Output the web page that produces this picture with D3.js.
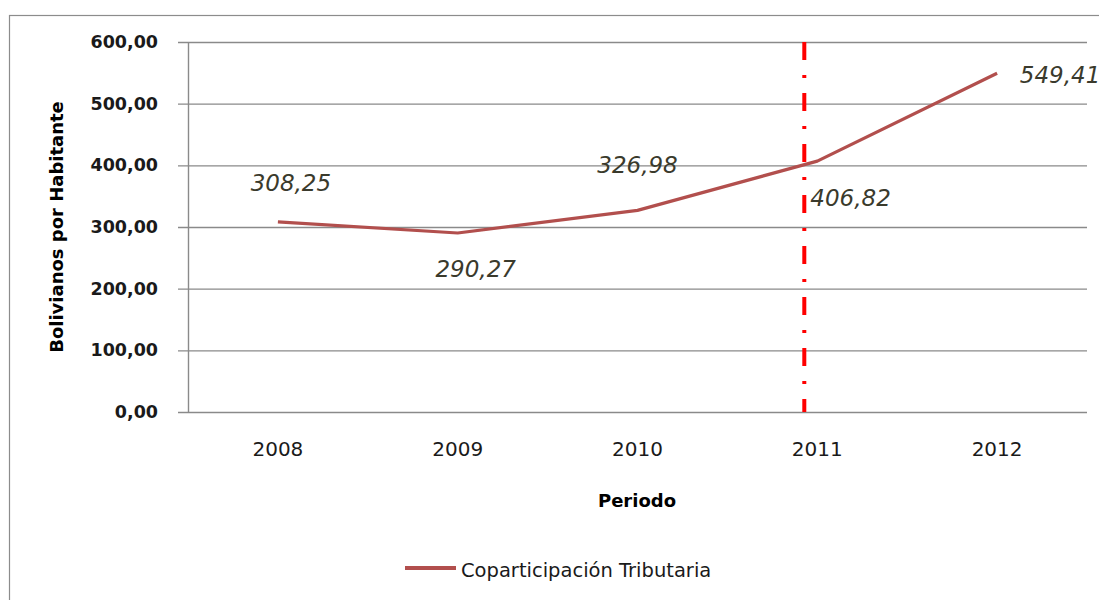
<!DOCTYPE html>
<html>
<head>
<meta charset="utf-8">
<script src="https://cdn.jsdelivr.net/npm/d3@7"></script>
<style>
  body { margin: 0; background: #fff; }
  text { font-family: "DejaVu Sans", sans-serif; }
</style>
</head>
<body>
<script>
// data
var years  = ["2008", "2009", "2010", "2011", "2012"]
var values = [308.25, 290.27, 326.98, 406.82, 549.41]
var yTicks = [0, 100, 200, 300, 400, 500, 600]
var seriesName = "Coparticipación Tributaria"
var markYear = "2011"

// where each value label sits relative to its point
var labelOffsets = [[13, -31], [18, 44], [0, -37], [-7, 45], [63, 10]]
var labelAnchor  = ["middle", "middle", "middle", "start", "middle"]

var width = 1099
var height = 600
var lineColor = "#b24f4d"

var svg = d3.select("body")
    .append("svg")
    .attr("width", width)
    .attr("height", height)

// outer chart frame
svg.append("rect")
    .attr("x", 9.5).attr("y", 15.5)
    .attr("width", width + 20).attr("height", height)
    .style("fill", "none")
    .style("stroke", "#8c8c8c")
    .style("stroke-width", 1.2)

var x = d3.scaleBand()
    .domain(years)
    .range([188, 1087])

var y = d3.scaleLinear()
    .domain([0, 600])
    .range([412, 42])

var fmt = function(v) { return d3.format(".2f")(v).replace(".", ",") }

// y axis with gridlines
var yAxis = d3.axisLeft(y)
    .tickValues(yTicks)
    .tickSize(-(1087 - 178))
    .tickPadding(20)
    .tickFormat(fmt)

var gy = svg.append("g")
    .attr("transform", "translate(178,0)")
    .call(yAxis)
gy.select(".domain").remove()
gy.selectAll(".tick line")
    .style("stroke", "#8a8a8a")
    .style("stroke-width", 1.4)
gy.selectAll(".tick text")
    .style("font-size", "17.5px")
    .style("font-weight", "bold")
    .style("fill", "#1a1a1a")

// vertical axis line
svg.append("line")
    .attr("x1", 188.5).attr("x2", 188.5)
    .attr("y1", y(600)).attr("y2", y(0))
    .style("stroke", "#8a8a8a")
    .style("stroke-width", 1.4)

// x axis labels
var xAxis = d3.axisBottom(x).tickSize(0).tickPadding(30)
var gx = svg.append("g")
    .attr("transform", "translate(0," + y(0) + ")")
    .call(xAxis)
gx.select(".domain").remove()
gx.selectAll(".tick text")
    .style("font-size", "20px")
    .style("fill", "#1a1a1a")

// axis titles
svg.append("text")
    .attr("transform", "translate(63,227) rotate(-90)")
    .attr("text-anchor", "middle")
    .style("font-size", "18px")
    .style("font-weight", "bold")
    .text("Bolivianos por Habitante")

svg.append("text")
    .attr("x", 637).attr("y", 507)
    .attr("text-anchor", "middle")
    .style("font-size", "18px")
    .style("font-weight", "bold")
    .text("Periodo")

// red dash-dot marker line
svg.append("line")
    .attr("x1", x(markYear) + x.bandwidth() / 2 - 13)
    .attr("x2", x(markYear) + x.bandwidth() / 2 - 13)
    .attr("y1", y(600)).attr("y2", y(0))
    .style("stroke", "#ff0000")
    .style("stroke-width", 4)
    .style("stroke-dasharray", "18,15,3,15")

// the series
var pts = years.map(function(d, i) {
    return { year: d, value: values[i], i: i }
})

var line = d3.line()
    .x(function(d) { return x(d.year) + x.bandwidth() / 2 })
    .y(function(d) { return y(d.value) })

svg.append("path")
    .datum(pts)
    .attr("d", line)
    .style("fill", "none")
    .style("stroke", lineColor)
    .style("stroke-width", 3.2)
    .style("stroke-linejoin", "round")

// value labels
svg.selectAll(".vlabel")
    .data(pts)
    .enter()
    .append("text")
    .attr("class", "vlabel")
    .attr("x", function(d) { return x(d.year) + x.bandwidth() / 2 + labelOffsets[d.i][0] })
    .attr("y", function(d) { return y(d.value) + labelOffsets[d.i][1] })
    .attr("text-anchor", function(d) { return labelAnchor[d.i] })
    .style("font-size", "23px")
    .style("font-style", "italic")
    .style("fill", "#3a3a2c")
    .text(function(d) { return fmt(d.value) })

// legend
svg.append("line")
    .attr("x1", 405).attr("x2", 456)
    .attr("y1", 568).attr("y2", 568)
    .style("stroke", lineColor)
    .style("stroke-width", 4)

svg.append("text")
    .attr("x", 461).attr("y", 577)
    .style("font-size", "19.5px")
    .style("fill", "#1a1a1a")
    .text(seriesName)
</script>
</body>
</html>
